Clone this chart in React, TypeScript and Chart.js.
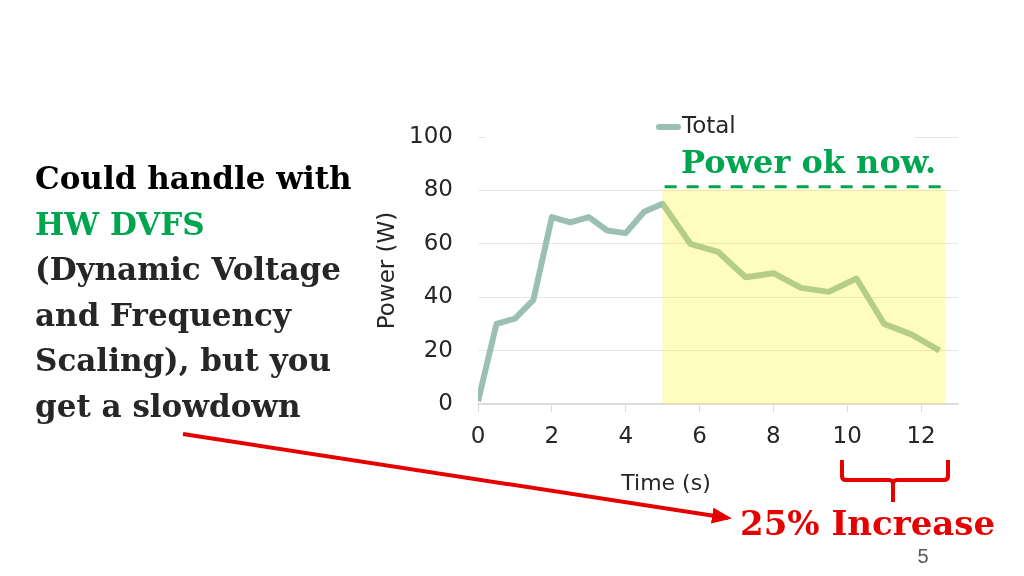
import React, { useRef, useEffect } from 'react';
import { Chart, registerables } from 'chart.js';

Chart.register(...registerables);

// time stamps (s) and total power (W)
const times = [0, 0.5, 1, 1.5, 2, 2.5, 3, 3.5, 4, 4.5, 5, 5.75, 6.5, 7.25, 8, 8.75, 9.5, 10.25, 11, 11.75, 12.5];
const power = [1, 30, 32, 39, 70, 68, 70, 65, 64, 72, 75, 60, 57, 47.5, 49, 43.5, 42, 47, 30, 26, 20];
const seriesLabel = 'Total';

// throttled region (DVFS kicks in)
const slowStart = 5;
const slowEnd = 12.65;
const powerCap = 80.4;

const leftLines = [
    { text: 'Could handle with', color: '#000000' },
    { text: 'HW DVFS', color: '#00a550' },
    { text: '(Dynamic Voltage', color: '#262626' },
    { text: 'and Frequency', color: '#262626' },
    { text: 'Scaling), but you', color: '#262626' },
    { text: 'get a slowdown', color: '#262626' },
];

const LINE_COLOR = '#9cbfb4';
const GREEN = '#00a550';
const RED = '#e60000';

const capPlugin = {
    id: 'capPlugin',
    afterDatasetsDraw(chart: Chart) {
        const { ctx } = chart;
        const x = chart.scales.x;
        const y = chart.scales.y;
        const left = x.getPixelForValue(slowStart);
        const right = x.getPixelForValue(slowEnd);
        const top = y.getPixelForValue(powerCap);
        const bottom = y.getPixelForValue(0);
        ctx.save();
        ctx.fillStyle = 'rgba(252, 248, 0, 0.25)';
        ctx.fillRect(left, top, right - left, bottom - top);
        ctx.strokeStyle = GREEN;
        ctx.lineWidth = 3;
        ctx.setLineDash([12, 10]);
        ctx.beginPath();
        ctx.moveTo(left + 2, top - 2.5);
        ctx.lineTo(right, top - 2.5);
        ctx.stroke();
        ctx.restore();
    },
};

const legendPlugin = {
    id: 'inlineLegend',
    afterDraw(chart: Chart) {
        const { ctx, chartArea } = chart;
        const ds = chart.data.datasets[0];
        const cy = chartArea.top - 10;
        ctx.save();
        // legend box covers the top gridline
        ctx.fillStyle = '#ffffff';
        ctx.fillRect(chartArea.left + 7, chartArea.top - 3, chartArea.width - 50, 6);
        ctx.strokeStyle = ds.borderColor as string;
        ctx.lineWidth = 6;
        ctx.lineCap = 'round';
        ctx.beginPath();
        ctx.moveTo(chartArea.left + 181, cy);
        ctx.lineTo(chartArea.left + 200, cy);
        ctx.stroke();
        ctx.fillStyle = '#262626';
        ctx.font = '23px "DejaVu Sans"';
        ctx.textBaseline = 'middle';
        ctx.textAlign = 'left';
        ctx.fillText(ds.label as string, chartArea.left + 204, cy);
        // x axis title sits left of centre on the slide
        ctx.font = '22px "DejaVu Sans"';
        ctx.textAlign = 'center';
        ctx.fillText('Time (s)', chartArea.left + 188, chartArea.bottom + 80);
        ctx.restore();
    },
};

const PowerChart: React.FC = () => {
    const chartRef = useRef<HTMLCanvasElement | null>(null);
    const chartInstance = useRef<Chart | null>(null);

    useEffect(() => {
        if (!chartRef.current) return;
        const ctx = chartRef.current.getContext('2d');
        if (!ctx) return;
        if (chartInstance.current) chartInstance.current.destroy();

        chartInstance.current = new Chart(ctx, {
            type: 'line',
            data: {
                datasets: [
                    {
                        label: seriesLabel,
                        data: times.map((t, i) => ({ x: t, y: power[i] })),
                        borderColor: LINE_COLOR,
                        backgroundColor: LINE_COLOR,
                        borderWidth: 6,
                        pointRadius: 0,
                        tension: 0,
                        borderJoinStyle: 'round',
                    },
                ],
            },
            options: {
                animation: false,
                responsive: true,
                maintainAspectRatio: false,
                layout: { padding: { top: 30, right: 12, bottom: 0, left: 0 } },
                font: { family: '"DejaVu Sans"' },
                plugins: {
                    legend: { display: false },
                    tooltip: { enabled: false },
                },
                scales: {
                    x: {
                        type: 'linear',
                        min: 0,
                        max: 13,
                        afterFit: (scale: any) => { scale.height = 100; },
                        ticks: {
                            stepSize: 2,
                            includeBounds: false,
                            padding: 11,
                            color: '#262626',
                            font: { family: '"DejaVu Sans"', size: 23 },
                        },
                        grid: { drawOnChartArea: false, tickLength: 8, color: '#d9d9d9' },
                        border: { color: '#d9d9d9', width: 1.5 },
                    },
                    y: {
                        min: 0,
                        max: 100,
                        afterFit: (scale: any) => { scale.width = 108; },
                        ticks: {
                            stepSize: 20,
                            padding: 3,
                            color: '#262626',
                            font: { family: '"DejaVu Sans"', size: 23 },
                        },
                        grid: { drawTicks: true, tickLength: 22, tickColor: 'rgba(0,0,0,0)', color: '#e6e6e6' },
                        border: { display: false },
                        title: {
                            display: true,
                            text: 'Power (W)',
                            color: '#262626',
                            font: { family: '"DejaVu Sans"', size: 23 },
                            padding: { top: 4, bottom: 0 },
                        },
                    },
                },
            },
            plugins: [capPlugin, legendPlugin],
        });

        return () => {
            if (chartInstance.current) {
                chartInstance.current.destroy();
                chartInstance.current = null;
            }
        };
    }, []);

    return <canvas ref={chartRef}></canvas>;
};

const App: React.FC = () => {
    return (
        <div style={{ position: 'fixed', left: 0, top: 0, width: 1024, height: 576, background: '#fff', overflow: 'hidden' }}>
            <div style={{ position: 'absolute', left: 370, top: 107, width: 600, height: 397 }}>
                <PowerChart />
            </div>
            <svg width={1024} height={576} style={{ position: 'absolute', left: 0, top: 0, pointerEvents: 'none' }}>
                <defs>
                    <marker id="head" markerWidth="5" markerHeight="4" refX="4" refY="2" orient="auto" markerUnits="strokeWidth">
                        <path d="M0,0 L5,2 L0,4 Z" fill={RED} />
                    </marker>
                </defs>
                {leftLines.map((l, i) => (
                    <text key={i} x={35} y={189 + i * 45.5} fill={l.color}
                        fontFamily="DejaVu Serif" fontWeight="bold" fontSize={31}>{l.text}</text>
                ))}
                <text x={681} y={173} fill={GREEN} fontFamily="DejaVu Serif" fontWeight="bold" fontSize={32}>Power ok now.</text>
                <line x1={183} y1={434} x2={728} y2={518} stroke={RED} strokeWidth={4} markerEnd="url(#head)" />
                <path d="M842,460 L842,476 Q842,480 846,480 L889,480 Q893,480 893,484 L893,502 M893,484 Q893,480 897,480 L944,480 Q948,480 948,476 L948,460"
                    fill="none" stroke={RED} strokeWidth={4} />
                <text x={740} y={535} fill={RED} fontFamily="DejaVu Serif" fontWeight="bold" fontSize={34}>25% Increase</text>
                <text x={923} y={563} fill="#595959" fontFamily="Liberation Sans" fontSize={20} textAnchor="middle">5</text>
            </svg>
        </div>
    );
};

export default App;
